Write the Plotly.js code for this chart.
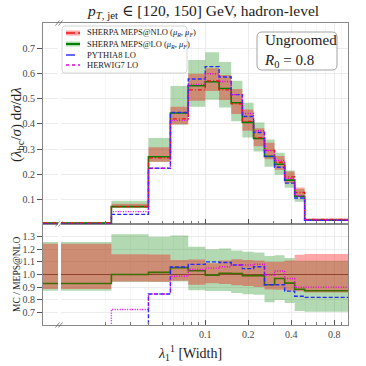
<!DOCTYPE html>
<html>
<head>
<meta charset="utf-8">
<script src="https://cdn.plot.ly/plotly-3.0.1.min.js"></script>
<style>html,body{margin:0;padding:0;background:#fff}#plot{width:366px;height:366px}</style>
</head>
<body>
<div id="plot"></div>
<script>
// bin edges of lambda_1^1, the first bin starts at 0 (drawn from the axis break)
var edges = [0, 0.022, 0.04, 0.057, 0.076, 0.1, 0.125, 0.152, 0.182, 0.218, 0.26, 0.306, 0.36, 0.423, 0.497, 1.0];

// SHERPA MEPS@NLO central + scale band
var nlo   = [0.007, 0.072, 0.265, 0.42, 0.535, 0.57, 0.535, 0.48, 0.41, 0.345, 0.295, 0.248, 0.19, 0.128, 0.021];
var nloLo = [0.0062, 0.068, 0.250, 0.399, 0.492, 0.530, 0.495, 0.439, 0.373, 0.311, 0.260, 0.218, 0.166, 0.111, 0.018];
var nloHi = [0.0087, 0.0835, 0.307, 0.468, 0.599, 0.621, 0.594, 0.538, 0.457, 0.383, 0.325, 0.273, 0.211, 0.148, 0.0244];
// SHERPA MEPS@LO central + scale band
var lo    = [0.0065, 0.072, 0.2695, 0.443, 0.551, 0.567, 0.540, 0.484, 0.406, 0.342, 0.271, 0.240, 0.177, 0.113, 0.0183];
var loLo  = [0.0061, 0.0677, 0.249, 0.397, 0.468, 0.496, 0.465, 0.410, 0.346, 0.290, 0.230, 0.198, 0.147, 0.091, 0.0148];
var loHi  = [0.0088, 0.095, 0.3445, 0.550, 0.653, 0.684, 0.645, 0.571, 0.484, 0.405, 0.338, 0.286, 0.215, 0.142, 0.0233];
// PYTHIA8 LO, HERWIG7 LO
var pythia = [0.0021, 0.041, 0.224, 0.445, 0.578, 0.627, 0.586, 0.516, 0.429, 0.366, 0.271, 0.228, 0.165, 0.106, 0.0172];
var herwig = [0.0021, 0.052, 0.224, 0.414, 0.556, 0.599, 0.568, 0.516, 0.441, 0.373, 0.294, 0.255, 0.184, 0.115, 0.0189];

var xTicks = [0.1, 0.2, 0.4, 0.8];
var xMinor = [0.02, 0.03, 0.04, 0.05, 0.06, 0.07, 0.08, 0.09, 0.3, 0.5, 0.6, 0.7, 0.9];
var yTicksTop = [0.1, 0.2, 0.3, 0.4, 0.5, 0.6, 0.7];
var yTicksRatio = [0.7, 0.8, 0.9, 1.0, 1.1, 1.2, 1.3];

var XMIN = 0.0073;  // left end of the log axis, where the 0 edge is drawn
var xs = edges.map(function (e) { return e <= 0 ? XMIN : e; });
function sy(v) { return v.concat([v[v.length - 1]]); }
function ratio(v) { return v.map(function (d, i) { return d / nlo[i]; }); }

var font = 'Liberation Serif, DejaVu Serif, serif';
var green = 'rgb(0,128,0)', greenFill = 'rgba(0,128,0,0.3)';
var red = 'rgb(235,20,20)', redFill = 'rgba(255,0,0,0.35)';
var blue = 'rgb(40,40,255)', mag = 'rgb(230,0,230)';

function step(v, xa, ya, line, fill) {
  var t = {x: xs, y: sy(v), xaxis: xa, yaxis: ya, mode: 'lines', line: Object.assign({shape: 'hv'}, line),
           hoverinfo: 'skip', showlegend: false};
  if (fill) { t.fill = 'tonexty'; t.fillcolor = fill; }
  return t;
}
function band(a, b, xa, ya, fill) {
  return [step(a, xa, ya, {width: 0}), step(b, xa, ya, {width: 0}, fill)];
}

var data = [];
// top panel
data = data.concat(band(loLo, loHi, 'x2', 'y2', greenFill));
data = data.concat(band(nloLo, nloHi, 'x2', 'y2', redFill));
data.push(step(lo, 'x2', 'y2', {color: green, width: 1.6}));
data.push(step(nlo, 'x2', 'y2', {color: red, width: 1.4, dash: '4px,2px,1px,2px'}));
data.push(step(pythia, 'x2', 'y2', {color: blue, width: 1.4, dash: '4px,2px'}));
data.push(step(herwig, 'x2', 'y2', {color: mag, width: 1.4, dash: '1px,1.5px'}));
// ratio panel
data = data.concat(band(ratio(loLo), ratio(loHi), 'x', 'y', greenFill));
data = data.concat(band(ratio(nloLo), ratio(nloHi), 'x', 'y', redFill));
data.push(step(ratio(nlo), 'x', 'y', {color: 'rgba(130,50,30,0.8)', width: 1.2}));
data.push(step(ratio(lo), 'x', 'y', {color: 'rgb(60,110,0)', width: 1.6}));
data.push(step(ratio(pythia), 'x', 'y', {color: blue, width: 1.4, dash: '4px,2px'}));
data.push(step(ratio(herwig), 'x', 'y', {color: mag, width: 1.4, dash: '1px,1.5px'}));

// pixel -> paper helpers for the decorations
var L = 43, R = 348, T = 23, B = 325;
function px(x) { return (x - L) / (R - L); }
function py(y) { return (B - y) / (B - T); }
var split = py(224);

var tickFont = {family: font, size: 10, color: '#444'};
var xBase = {
  type: 'log', range: [Math.log10(XMIN), 0], tickvals: xTicks, ticktext: xTicks.map(String),
  ticks: 'inside', ticklen: 5, tickcolor: '#555', showline: true, linecolor: '#888', linewidth: 1, mirror: true,
  showgrid: true, gridcolor: '#ececec', zeroline: false, tickfont: tickFont,
  minor: {tickvals: xMinor, ticks: 'inside', ticklen: 3, tickcolor: '#777', showgrid: true, gridcolor: '#f6f6f6'}
};
var yBase = {ticks: 'outside', ticklen: 5, tickcolor: '#555', showline: true, linecolor: '#888', linewidth: 1,
  mirror: true, showgrid: true, gridcolor: '#ececec', zeroline: false, tickfont: tickFont};

function rpath(x0, y0, x1, y1, r) {
  var a = px(x0), b = px(x1), c = py(y0), d = py(y1), rx = r / (R - L), ry = r / (B - T);
  return 'M' + (a + rx) + ',' + c + ' L' + (b - rx) + ',' + c + ' Q' + b + ',' + c + ' ' + b + ',' + (c - ry) +
    ' L' + b + ',' + (d + ry) + ' Q' + b + ',' + d + ' ' + (b - rx) + ',' + d + ' L' + (a + rx) + ',' + d +
    ' Q' + a + ',' + d + ' ' + a + ',' + (d + ry) + ' L' + a + ',' + (c - ry) + ' Q' + a + ',' + c + ' ' + (a + rx) + ',' + c + ' Z';
}
function seg(x0, y0, x1, y1, color, width, dash) {
  return {type: 'line', xref: 'paper', yref: 'paper', x0: px(x0), y0: py(y0), x1: px(x1), y1: py(y1),
          line: {color: color, width: width, dash: dash || 'solid'}};
}
function box(x0, y0, x1, y1, fill) {
  return {type: 'rect', xref: 'paper', yref: 'paper', x0: px(x0), y0: py(y0), x1: px(x1), y1: py(y1),
          fillcolor: fill, line: {width: 0}};
}

var shapes = [
  // axis break
  {type: 'rect', xref: 'paper', yref: 'paper', x0: px(58), x1: px(61), y0: 0, y1: 1, fillcolor: '#fff', line: {width: 0}, layer: 'above'},
  // legend frame and ungroomed box
  {type: 'path', xref: 'paper', yref: 'paper', path: rpath(62, 26, 187, 73, 3), fillcolor: 'rgba(255,255,255,0.9)', line: {color: '#ccc', width: 0.8}},
  {type: 'path', xref: 'paper', yref: 'paper', path: rpath(257, 32, 337, 70, 5), fillcolor: '#fff', line: {color: '#999', width: 0.9}},
  box(66, 30.5, 80, 35.5, redFill), seg(66, 33, 80, 33, red, 1.4, 'dashdot'),
  box(66, 41.5, 80, 46.5, greenFill), seg(66, 44, 80, 44, green, 2),
  seg(66, 55, 80, 55, blue, 1.4, 'dash'),
  seg(66, 65, 80, 65, mag, 1.4, 'dot')
];
[23, 224, 325].forEach(function (y) {
  shapes.push(seg(55.5, y + 2.5, 59.5, y - 2.5, '#666', 0.8));
  shapes.push(seg(58.5, y + 2.5, 62.5, y - 2.5, '#666', 0.8));
});

function ann(x, y, text, size, extra) {
  return Object.assign({xref: 'paper', yref: 'paper', x: px(x), y: py(y), text: text, showarrow: false,
    xanchor: 'center', yanchor: 'middle', font: {family: font, size: size, color: '#222'}}, extra || {});
}
var legFont = 8.5;
var annotations = [
  ann(203, 12, '<i>p</i><sub><i>T</i>, jet</sub> ∈ [120, 150] GeV, hadron-level', 15.5),
  ann(17, 125, '(<i>λ</i><sub>bc</sub>/<i>σ</i>) d<i>σ</i>/d<i>λ</i>', 15, {textangle: -90}),
  ann(17, 275, 'MC / MEPS@NLO', 9.5, {textangle: -90}),
  ann(190, 353, '<i>λ</i><sub>1</sub><sup>1</sup> [Width]', 14),
  ann(262, 51, 'Ungroomed<br><i>R</i><sub>0</sub> = 0.8', 15, {xanchor: 'left', align: 'left'}),
  ann(85, 33, 'SHERPA MEPS@NLO (<i>μ<sub>R</sub></i>, <i>μ<sub>F</sub></i>)', legFont, {xanchor: 'left'}),
  ann(85, 44, 'SHERPA MEPS@LO (<i>μ<sub>R</sub></i>, <i>μ<sub>F</sub></i>)', legFont, {xanchor: 'left'}),
  ann(85, 55, 'PYTHIA8 LO', legFont, {xanchor: 'left'}),
  ann(85, 65, 'HERWIG7 LO', legFont, {xanchor: 'left'})
];

var layout = {
  width: 366, height: 366, margin: {l: L, r: 366 - R, t: T, b: 366 - B},
  paper_bgcolor: '#fff', plot_bgcolor: '#fff', showlegend: false,
  xaxis: Object.assign({}, xBase, {anchor: 'y', domain: [0, 1]}),
  xaxis2: Object.assign({}, xBase, {anchor: 'y2', domain: [0, 1], matches: 'x', showticklabels: false}),
  yaxis: Object.assign({}, yBase, {domain: [0, split], range: [0.6, 1.4], tickvals: yTicksRatio,
    ticktext: yTicksRatio.map(function (v) { return v.toFixed(1); })}),
  yaxis2: Object.assign({}, yBase, {domain: [split, 1], range: [0.003, 0.8], tickvals: yTicksTop,
    ticktext: yTicksTop.map(function (v) { return v.toFixed(1); })}),
  shapes: shapes,
  annotations: annotations
};

Plotly.newPlot('plot', data, layout, {displayModeBar: false, staticPlot: true});
</script>
</body>
</html>
